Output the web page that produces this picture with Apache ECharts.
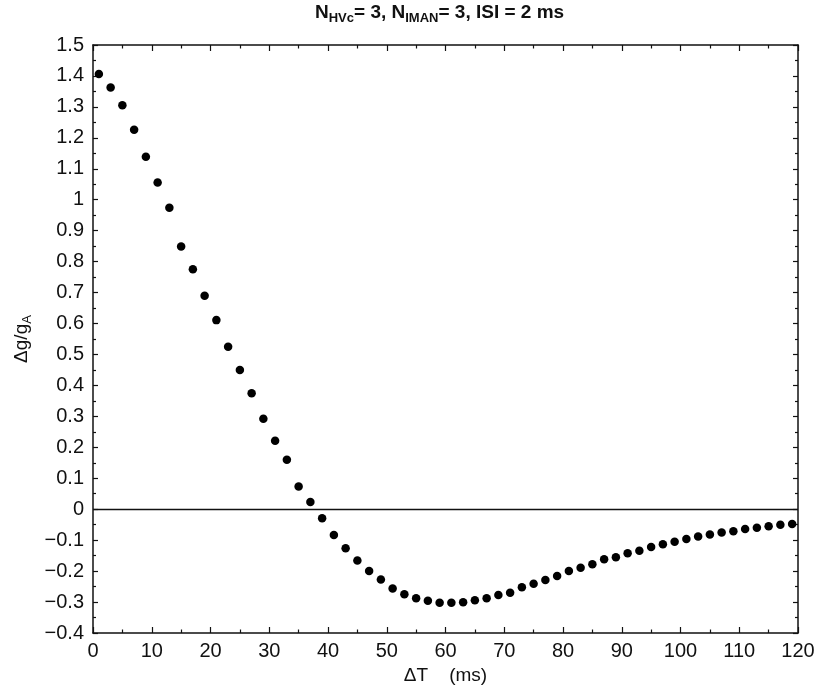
<!DOCTYPE html>
<html><head><meta charset="utf-8">
<script src="https://cdn.jsdelivr.net/npm/echarts@6/dist/echarts.min.js"></script>
<style>html,body{margin:0;padding:0;background:#fff}#c{width:823px;height:690px}</style>
</head><body><div id="c"></div>
<script>
// ---- data ----
const deltaT = [1,3,5,7,9,11,13,15,17,19,21,23,25,27,29,31,33,35,37,39,41,43,45,47,49,51,53,55,57,59,61,63,65,67,69,71,73,75,77,79,81,83,85,87,89,91,93,95,97,99,101,103,105,107,109,111,113,115,117,119];
const dgOverGA = [1.406,1.363,1.305,1.226,1.139,1.056,0.974,0.849,0.775,0.690,0.611,0.525,0.450,0.375,0.292,0.221,0.160,0.073,0.023,-0.029,-0.083,-0.126,-0.166,-0.200,-0.227,-0.256,-0.275,-0.288,-0.296,-0.302,-0.302,-0.301,-0.294,-0.288,-0.277,-0.270,-0.252,-0.241,-0.229,-0.216,-0.200,-0.189,-0.178,-0.162,-0.155,-0.142,-0.134,-0.122,-0.113,-0.105,-0.096,-0.088,-0.082,-0.075,-0.071,-0.064,-0.060,-0.055,-0.050,-0.048];
const xRange = [0, 120];
const xStep = 10;
const yRange = [-0.4, 1.5];
const yStep = 0.1;
const zeroLine = [0];

const FONT = 'Liberation Sans, Arial, Helvetica, sans-serif';
const chart = echarts.init(document.getElementById('c'));
const fmtY = v => { const r = Math.round(v * 10) / 10; return String(r).replace('-', '\u2212'); };
const fmtX = v => String(Math.round(v));

function xAx(pos, showLabel) {
  return {
    type: 'value', position: pos, min: xRange[0], max: xRange[1], interval: xStep,
    axisLine: { show: true, onZero: false, lineStyle: { color: '#111', width: 1.5 } },
    axisTick: { show: true, inside: true, length: 6, lineStyle: { color: '#111', width: 1.2 } },
    minorTick: { show: true, splitNumber: 2, length: 3.5, lineStyle: { color: '#111', width: 1.2 } },
    splitLine: { show: false },
    axisLabel: { show: showLabel, formatter: fmtX, color: '#111', fontSize: 20, fontFamily: FONT, margin: 8 },
    name: showLabel ? 'ΔT    (ms)' : '', nameLocation: 'middle', nameGap: 33,
    nameTextStyle: { color: '#111', fontSize: 19, fontFamily: FONT }
  };
}
function yAx(pos, showLabel) {
  return {
    type: 'value', position: pos, min: yRange[0], max: yRange[1], interval: yStep,
    axisLine: { show: true, onZero: false, lineStyle: { color: '#111', width: 1.5 } },
    axisTick: { show: true, inside: true, length: 5, lineStyle: { color: '#111', width: 1.2 } },
    minorTick: { show: true, splitNumber: 2, length: 3, lineStyle: { color: '#111', width: 1.2 } },
    splitLine: { show: false },
    axisLabel: { show: showLabel, formatter: fmtY, color: '#111', fontSize: 20, fontFamily: FONT, margin: 9 },
    name: showLabel ? '{m|Δg/g}{s|A}' : '', nameLocation: 'middle', nameGap: 47, nameRotate: 90,
    nameTextStyle: {
      color: '#111', fontFamily: FONT,
      rich: {
        m: { fontSize: 19, fontFamily: FONT, color: '#111', lineHeight: 24, verticalAlign: 'middle' },
        s: { fontSize: 13, fontFamily: FONT, color: '#111', lineHeight: 8, verticalAlign: 'bottom' }
      }
    }
  };
}

chart.setOption({
  animation: false,
  backgroundColor: '#fff',
  grid: { left: 93, right: 25, top: 45, bottom: 57, containLabel: false, outerBoundsMode: 'none' },
  xAxis: [xAx('bottom', true), xAx('top', false)],
  yAxis: [yAx('left', true), yAx('right', false)],
  graphic: [{
    type: 'text', left: 315, top: 3,
    style: {
      text: '{b|N}{s|HVc}{b|= 3, N}{s|IMAN}{b|= 3, ISI = 2 ms}',
      fill: '#111',
      rich: {
        b: { fontSize: 19, fontWeight: 'bold', fontFamily: FONT, fill: '#111', lineHeight: 24, verticalAlign: 'middle' },
        s: { fontSize: 13, fontWeight: 'bold', fontFamily: FONT, fill: '#111', lineHeight: 8, verticalAlign: 'bottom' }
      }
    }
  }],
  series: [{
    type: 'scatter',
    data: deltaT.map((t, i) => [t, dgOverGA[i]]),
    symbol: 'circle', symbolSize: 8.5,
    itemStyle: { color: '#000', opacity: 1 },
    markLine: {
      silent: true, symbol: 'none', label: { show: false },
      lineStyle: { color: '#111', width: 1.3, type: 'solid' },
      data: zeroLine.map(v => ({ yAxis: v }))
    }
  }]
});
</script>
</body></html>
